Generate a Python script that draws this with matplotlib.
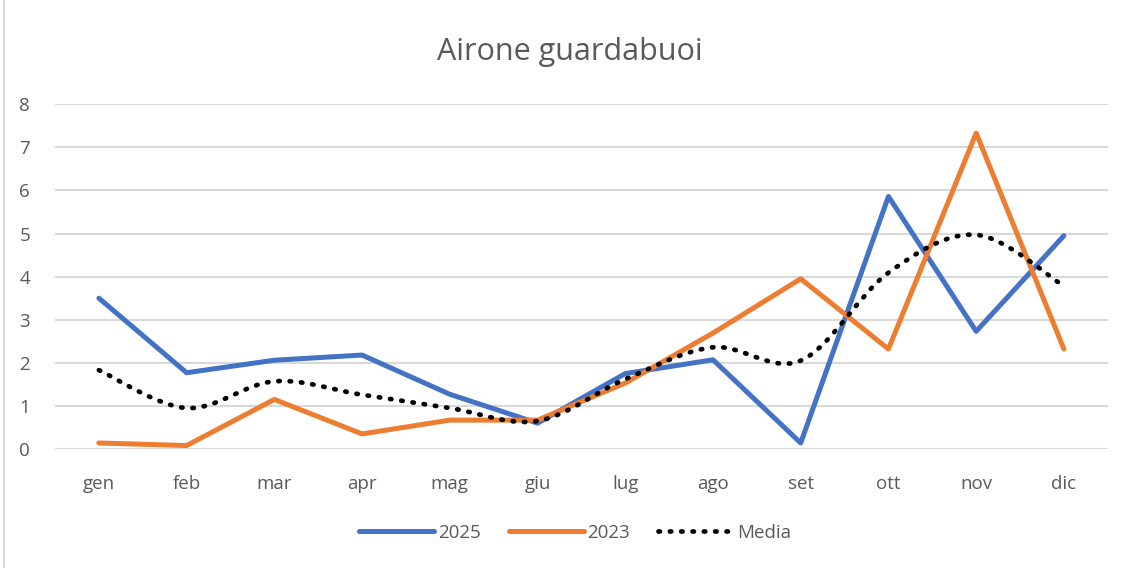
import matplotlib
matplotlib.use('Agg')
import matplotlib.pyplot as plt
import numpy as np
from matplotlib.path import Path
from matplotlib.patches import PathPatch
from matplotlib.lines import Line2D

months = ['gen', 'feb', 'mar', 'apr', 'mag', 'giu', 'lug', 'ago', 'set', 'ott', 'nov', 'dic']
val_2025 = [3.5, 1.77, 2.06, 2.18, 1.27, 0.6, 1.75, 2.07, 0.14, 5.86, 2.73, 4.95]
val_2023 = [0.14, 0.08, 1.15, 0.35, 0.67, 0.67, 1.53, 2.69, 3.95, 2.32, 7.33, 2.32]
media = [1.83, 0.95, 1.57, 1.26, 0.95, 0.65, 1.62, 2.36, 2.05, 4.09, 4.97, 3.78]

blue = '#4472C4'
orange = '#ED7D31'
grey = '#595959'

plt.rcParams['font.family'] = ['Open Sans', 'DejaVu Sans']


def smooth_path(x, y, t=1/6):
    """Excel-like smoothed line: cubic bezier through the points."""
    pts = np.column_stack([x, y]).astype(float)
    verts = [pts[0]]
    codes = [Path.MOVETO]
    n = len(pts)
    for i in range(n - 1):
        p0 = pts[i - 1] if i > 0 else pts[i]
        p1 = pts[i]
        p2 = pts[i + 1]
        p3 = pts[i + 2] if i + 2 < n else pts[i + 1]
        c1 = p1 + (p2 - p0) * t
        c2 = p2 - (p3 - p1) * t
        verts += [c1, c2, p2]
        codes += [Path.CURVE4] * 3
    return Path(verts, codes)


fig = plt.figure(figsize=(11.32, 5.68), dpi=100)
ax = fig.add_axes([0.0486, 0.2095, 0.930, 0.607])

x = np.arange(len(months))
ax.plot(x, val_2025, color=blue, lw=3.6, solid_joinstyle='round', solid_capstyle='round', zorder=3)
ax.plot(x, val_2023, color=orange, lw=3.6, solid_joinstyle='round', solid_capstyle='round', zorder=3)
patch = PathPatch(smooth_path(x, media), facecolor='none', edgecolor='black',
                  lw=3.4, linestyle=(0, (0.3, 2.1)), capstyle='round', zorder=4)
ax.add_patch(patch)

ax.set_xlim(-0.5, len(months) - 0.5)
ax.set_ylim(0, 8)
ax.set_yticks(range(0, 9))
ax.set_xticks(x)
ax.set_xticklabels(months)
ax.grid(axis='y', color='#d9d9d9', lw=1.5)
ax.set_axisbelow(True)
for s in ax.spines.values():
    s.set_visible(False)
ax.tick_params(length=0, labelsize=13.5, labelcolor=grey)
ax.tick_params(axis='x', pad=19)
ax.tick_params(axis='y', pad=18)

fig.text(0.503, 0.908, 'Airone guardabuoi', ha='center', va='center', fontsize=22, color=grey)

handles = [
    Line2D([], [], color=blue, lw=3.6, solid_capstyle='round'),
    Line2D([], [], color=orange, lw=3.6, solid_capstyle='round'),
    Line2D([], [], color='black', lw=3.4, linestyle=(0, (0.3, 2.1)), dash_capstyle='round'),
]
fig.legend(handles, ['2025', '2023', 'Media'], loc='center', bbox_to_anchor=(0.508, 0.062),
           ncol=3, frameon=False, fontsize=13.5, labelcolor=grey, handlelength=4.0,
           handletextpad=0.2, columnspacing=1.5)

fig.add_artist(Line2D([0.0035, 0.0035], [0, 1], color='#d9d9d9', lw=1.5, transform=fig.transFigure))

fig.savefig('out.png', dpi=100)
